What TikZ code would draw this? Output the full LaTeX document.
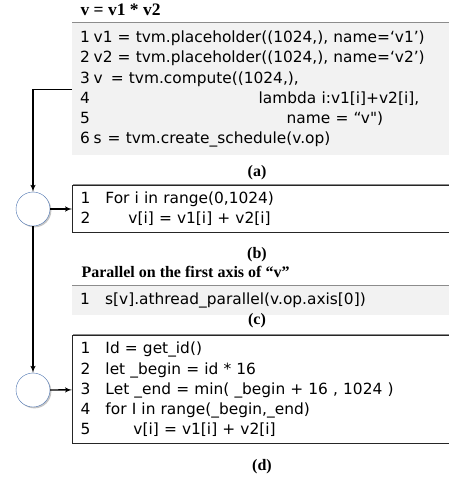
\documentclass[tikz,border=0pt]{standalone}
\usepackage{fontspec}
\setmainfont{Liberation Serif}
\newfontfamily\codefont{DejaVu Sans}[Ligatures=TeXOff]
\usetikzlibrary{arrows,shadows}
\definecolor{codegray}{HTML}{F2F2F2}
\definecolor{ringblue}{HTML}{4A72B0}
\newcommand{\lno}[2][13.5pt]{\makebox[#1][l]{#2}}
\tikzset{top shadow/.style = {drop shadow={shadow xshift=0pt,shadow yshift=1.5pt,opacity=0.45,fill=black}}}
\tikzset{code/.style = {anchor=north west,minimum width=390pt,text width=374pt,inner xsep=8pt,inner ysep=0pt,align=left,font=\codefont\fontsize{15.4}{20.3}\selectfont}}
\tikzset{graybox/.style = {code,fill=codegray,top shadow}}
\tikzset{whitebox/.style = {code,draw=black!85,line width=1pt,fill=white,top shadow}}
\tikzset{ring/.style = {shape=circle,draw=ringblue,fill=white,minimum size=34pt,inner sep=0pt,drop shadow={shadow xshift=1.4pt,shadow yshift=-1.4pt,opacity=0.45}}}
\tikzset{edge/.style = {->,> = latex',line width=1.4pt}}
\tikzset{caption/.style = {font=\bfseries\fontsize{16}{18}\selectfont}}

\begin{document}
\begin{tikzpicture}[x=1pt,y=-1pt]
\useasboundingbox (0,0) rectangle (448,482);

\node[caption,anchor=west,font=\bfseries\fontsize{17.5}{19}\selectfont] (title) at (77,10) {v = v1 * v2};
\node[graybox,minimum height=132pt] (boxa) at (72,23) {%
\lno{1}v1 = tvm.placeholder((1024,), name=‘v1’)\\
\lno{2}v2 = tvm.placeholder((1024,), name=‘v2’)\\
\lno{3}v\hspace{8pt}= tvm.compute((1024,),\\
\lno{4}\hspace*{165pt}lambda i:v1[i]+v2[i],\\
\lno{5}\hspace*{193pt}name = “v")\\
\lno{6}s\hspace{6pt}= tvm.create\_schedule(v.op)};
\node[caption] (capa) at (257,173) {(a)};

\node[ring] (c1) at (33,209) {};
\node[whitebox,minimum height=47pt] (boxb) at (72,185) {%
\lno[25pt]{1}For i in range(0,1024)\\
\lno[25pt]{2}\hspace*{23pt}v[i] = v1[i] + v2[i]};
\node[caption] (capb) at (257,255) {(b)};

\node[caption,anchor=west] (par) at (78,272) {Parallel on the first axis of “v”};
\node[graybox,minimum height=29pt] (boxc) at (72,286) {%
\lno[25pt]{1}s[v].athread\_parallel(v.op.axis[0])};
\node[caption] (capc) at (257,321) {(c)};

\node[ring] (c2) at (33,390) {};
\node[whitebox,minimum height=108pt] (boxd) at (72,335) {%
\lno[25pt]{1}Id = get\_id()\\
\lno[25pt]{2}let \_begin = id * 16\\
\lno[25pt]{3}Let \_end = min( \_begin + 16 , 1024 )\\
\lno[25pt]{4}for I in range(\_begin,\_end)\\
\lno[25pt]{5}\hspace*{28pt}v[i] = v1[i] + v2[i]};
\node[caption] (capd) at (262,467) {(d)};

\draw[edge] (boxa.west) -| (c1);
\draw[edge] (c1) -- (boxb);
\draw[edge] (c1) -- (c2);
\draw[edge] (c2) -- (boxd);

\end{tikzpicture}
\end{document}
